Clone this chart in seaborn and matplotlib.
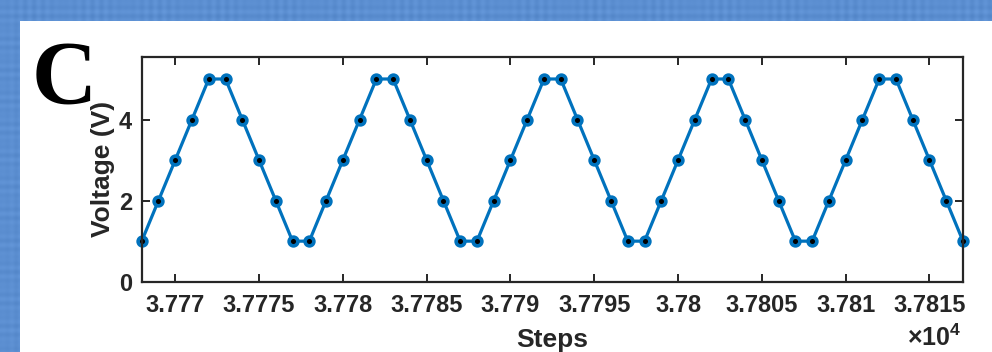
import numpy as np
import pandas as pd
import matplotlib
matplotlib.use("Agg")
import matplotlib.pyplot as plt
from matplotlib.patches import Rectangle
import seaborn as sns

# Triangular voltage sweep sampled once per step
steps = list(range(37768, 37818))
voltage = [1, 2, 3, 4, 5, 5, 4, 3, 2, 1,
           1, 2, 3, 4, 5, 5, 4, 3, 2, 1,
           1, 2, 3, 4, 5, 5, 4, 3, 2, 1,
           1, 2, 3, 4, 5, 5, 4, 3, 2, 1,
           1, 2, 3, 4, 5, 5, 4, 3, 2, 1]

x_ticks = [37770, 37775, 37780, 37785, 37790, 37795, 37800, 37805, 37810, 37815]
x_tick_labels = [f"{v / 1e4:g}" for v in x_ticks]
y_ticks = [0, 2, 4]
y_tick_labels = ["0", "2", "4"]

panel_label = "C"
x_label = "Steps"
y_label = "Voltage (V)"

sns.set_style("ticks")
plt.rcParams["font.family"] = ["Liberation Sans", "DejaVu Sans"]
plt.rcParams["font.weight"] = "bold"
plt.rcParams["mathtext.fontset"] = "custom"
plt.rcParams["mathtext.rm"] = "Liberation Sans:bold"
plt.rcParams["mathtext.it"] = "Liberation Sans:bold"
plt.rcParams["mathtext.bf"] = "Liberation Sans:bold"

INK = "#262626"
BLUE = "#0072BD"

fig = plt.figure(figsize=(9.92, 3.52), dpi=100, facecolor="#5b8fd0")

# Soft plaid slide backdrop
h, w = 352, 992
yy, xx = np.mgrid[0:h, 0:w]
stripes = (0.5 * np.sin(xx * 0.7) * np.sin(xx * 0.05)
           + 0.5 * np.sin(yy * 0.7) * np.sin(yy * 0.11)) * 0.035
base = np.array([0.36, 0.56, 0.82])
bg = np.clip(base[None, None, :] + stripes[:, :, None], 0, 1)
fig.figimage(bg, xo=0, yo=0, zorder=0)

# White content panel
fig.patches.append(Rectangle((20 / 992, 0), 1 - 20 / 992, 1 - 21 / 352,
                             transform=fig.transFigure, facecolor="white",
                             edgecolor="none", zorder=1))

ax = fig.add_axes([141.7 / 992, 70.3 / 352, 821.3 / 992, 225.0 / 352])
ax.set_zorder(2)
ax.set_facecolor("white")

df = pd.DataFrame({"Steps": steps, "Voltage": voltage})
sns.lineplot(data=df, x="Steps", y="Voltage", ax=ax, color=BLUE,
             linewidth=2.3, marker="o", markersize=6.3,
             markerfacecolor="black", markeredgecolor=BLUE,
             markeredgewidth=2.6, clip_on=False)

ax.set_xlim(37768, 37817)
ax.set_ylim(0, 5.55)
ax.set_xticks(x_ticks)
ax.set_xticklabels(x_tick_labels)
ax.set_yticks(y_ticks)
ax.set_yticklabels(y_tick_labels)

for side in ["top", "right", "left", "bottom"]:
    ax.spines[side].set_visible(True)
    ax.spines[side].set_color(INK)
    ax.spines[side].set_linewidth(1.6)

ax.tick_params(axis="both", direction="in", length=5.5, width=1.4,
               color=INK, labelcolor=INK, labelsize=17,
               top=True, right=True)
ax.tick_params(axis="x", pad=9)
ax.tick_params(axis="y", pad=7)
for lbl in ax.get_xticklabels() + ax.get_yticklabels():
    lbl.set_fontweight("bold")

ax.set_xlabel(x_label, fontsize=19, fontweight="bold", color=INK, labelpad=8)
ax.set_ylabel(y_label, fontsize=19, fontweight="bold", color=INK, labelpad=3)

# Exponent multiplier for the step axis
fig.text(961 / 992, 1 - 325 / 352, r"$\times 10^{4}$", ha="right", va="top",
         fontsize=18, color=INK, zorder=3)

# Panel letter
fig.text(32 / 992, 1 - 104 / 352, panel_label, fontsize=65, fontweight="bold",
         family=["Liberation Serif", "DejaVu Serif"], color="black",
         ha="left", va="baseline", zorder=3)

fig.savefig("out.png", dpi=100, facecolor=fig.get_facecolor())
